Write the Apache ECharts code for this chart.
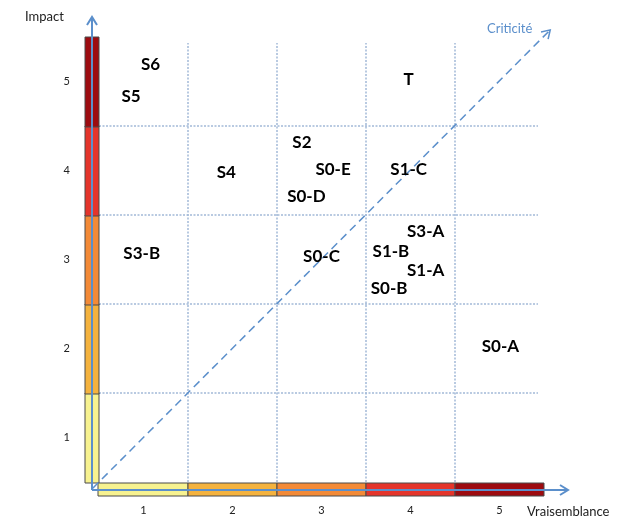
<!DOCTYPE html>
<html>
<head>
<meta charset="utf-8">
<script src="https://cdn.jsdelivr.net/npm/echarts@6/dist/echarts.min.js"></script>
<style>html,body{margin:0;padding:0;background:#fff;}#c{width:623px;height:518px;}</style>
</head>
<body>
<div id="c"></div>
<script>
// ---- data ----
const xTickLabels = ['1', '2', '3', '4', '5'];
const yTickLabels = ['1', '2', '3', '4', '5'];
const levelColors = ['#f7f290', '#f4b23e', '#f38a37', '#e4342b', '#9d0b10'];
const gridLevels = [1, 2, 3, 4];
const riskNames = ['S6', 'S5', 'T', 'S4', 'S2', 'S0-E', 'S1-C', 'S0-D', 'S3-B', 'S0-C', 'S3-A', 'S1-B', 'S1-A', 'S0-B', 'S0-A'];
const riskX = [0.58, 0.36, 3.48, 1.43, 2.28, 2.63, 3.48, 2.33, 0.48, 2.50, 3.67, 3.28, 3.67, 3.26, 4.51];
const riskY = [4.69, 4.33, 4.52, 3.48, 3.81, 3.51, 3.51, 3.21, 2.57, 2.53, 2.81, 2.59, 2.38, 2.17, 1.52];
const diagonal = [[-0.07, -0.07], [5.07, 5.08]];

const AX = '#5b8fcb';
const GRIDC = '#a3b9d8';

function chevron(tip, ang, len, half) {
  const bx = tip[0] - Math.cos(ang) * len, by = tip[1] - Math.sin(ang) * len;
  const px = -Math.sin(ang) * half, py = Math.cos(ang) * half;
  return [[bx + px, by + py], [tip[0], tip[1]], [bx - px, by - py]];
}

const chart = echarts.init(document.getElementById('c'));
chart.setOption({
  animation: false,
  backgroundColor: '#fff',
  grid: { left: 99, top: 37, width: 445, height: 445 },
  xAxis: {
    type: 'value', min: 0, max: 5, interval: 0.5,
    axisLine: { show: false }, axisTick: { show: false }, splitLine: { show: false },
    axisLabel: {
      margin: 23, color: '#222', fontSize: 11, fontFamily: 'Lato',
      formatter: v => (Math.abs(v % 1 - 0.5) < 1e-6) ? xTickLabels[Math.floor(v)] : ''
    }
  },
  yAxis: {
    type: 'value', min: 0, max: 5, interval: 0.5,
    axisLine: { show: false }, axisTick: { show: false }, splitLine: { show: false },
    axisLabel: {
      margin: 29, color: '#222', fontSize: 11, fontFamily: 'Lato',
      formatter: v => (Math.abs(v % 1 - 0.5) < 1e-6) ? yTickLabels[Math.floor(v)] : ''
    }
  },
  graphic: [
    { type: 'text', left: 25, top: 10, z: 10, style: { text: 'Impact', font: '13px Lato', fill: '#222' } },
    { type: 'text', left: 527, top: 505, z: 10, style: { text: 'Vraisemblance', font: '13px Lato', fill: '#222' } },
    { type: 'text', left: 487, top: 22, z: 10, style: { text: 'Criticité', font: '13px Lato', fill: AX } }
  ],
  series: [
    {
      type: 'custom', silent: true, z: 1,
      data: gridLevels.map(k => [k]),
      renderItem: (params, api) => {
        const k = api.value(0);
        const v0 = api.coord([k, 0]), v1 = api.coord([k, 5]);
        const h0 = api.coord([0, k]), h1 = api.coord([5, k]);
        const st = { stroke: GRIDC, lineWidth: 1.5, lineDash: [2, 1.5] };
        return { type: 'group', children: [
          { type: 'line', shape: { x1: v0[0], y1: v0[1], x2: v1[0], y2: v1[1] + 6 }, style: st },
          { type: 'line', shape: { x1: h0[0], y1: h0[1], x2: h1[0] - 6, y2: h1[1] }, style: st }
        ] };
      }
    },
    {
      type: 'custom', silent: true, z: 2,
      data: levelColors.map((c, i) => [i, i + 1]),
      renderItem: (params, api) => {
        const i = api.value(0), j = api.value(1);
        const c = levelColors[params.dataIndex];
        const a = api.coord([0, i]), b = api.coord([0, j]);
        const p = api.coord([i, 0]), q = api.coord([j, 0]);
        const st = { fill: c, stroke: '#4a4a4a', lineWidth: 1 };
        return { type: 'group', children: [
          { type: 'rect', shape: { x: a[0] - 14, y: b[1], width: 14, height: a[1] - b[1] + 1 }, style: st },
          { type: 'rect', shape: { x: p[0] - (i === 0 ? 1 : 0), y: p[1] + 1, width: q[0] - p[0] + (i === 0 ? 1 : 0), height: 13 }, style: st }
        ] };
      }
    },
    {
      type: 'custom', silent: true, z: 5,
      data: [[0, 0]],
      renderItem: (params, api) => {
        const o = api.coord([0, 0]), top = api.coord([0, 5]), right = api.coord([5, 0]);
        const ax = o[0] - 7, ay = o[1] + 8;
        const yTip = [ax, top[1] - 20], xTip = [right[0] + 24, ay];
        const st = { stroke: AX, lineWidth: 2, fill: null };
        return { type: 'group', children: [
          { type: 'line', z2: 10, shape: { x1: ax, y1: ay, x2: yTip[0], y2: yTip[1] + 1 }, style: st },
          { type: 'line', z2: 10, shape: { x1: ax, y1: ay, x2: xTip[0] - 1, y2: xTip[1] }, style: st },
          { type: 'polyline', z2: 10, shape: { points: chevron(yTip, -Math.PI / 2, 8, 5) }, style: st },
          { type: 'polyline', z2: 10, shape: { points: chevron(xTip, 0, 8, 5) }, style: st }
        ] };
      }
    },
    {
      type: 'custom', silent: true, z: 3,
      data: [[diagonal[0][0], diagonal[0][1], diagonal[1][0], diagonal[1][1]]],
      renderItem: (params, api) => {
        const s = api.coord([api.value(0), api.value(1)]);
        const e = api.coord([api.value(2), api.value(3)]);
        const ang = Math.atan2(e[1] - s[1], e[0] - s[0]);
        return { type: 'group', children: [
          { type: 'line', shape: { x1: s[0], y1: s[1], x2: e[0] - Math.cos(ang), y2: e[1] - Math.sin(ang) },
            style: { stroke: AX, lineWidth: 1.5, lineDash: [8, 5] } },
          { type: 'polyline', shape: { points: chevron(e, ang, 8, 5) }, style: { stroke: AX, lineWidth: 1.5, fill: null } }
        ] };
      }
    },
    {
      type: 'custom', silent: true, z: 6,
      data: riskNames.map((n, i) => [riskX[i], riskY[i]]),
      renderItem: (params, api) => {
        const p = api.coord([api.value(0), api.value(1)]);
        return { type: 'text', style: {
          x: p[0], y: p[1], text: riskNames[params.dataIndex],
          font: 'bold 17px Lato', fill: '#000', align: 'center', verticalAlign: 'middle'
        } };
      }
    }
  ]
});
</script>
</body>
</html>
